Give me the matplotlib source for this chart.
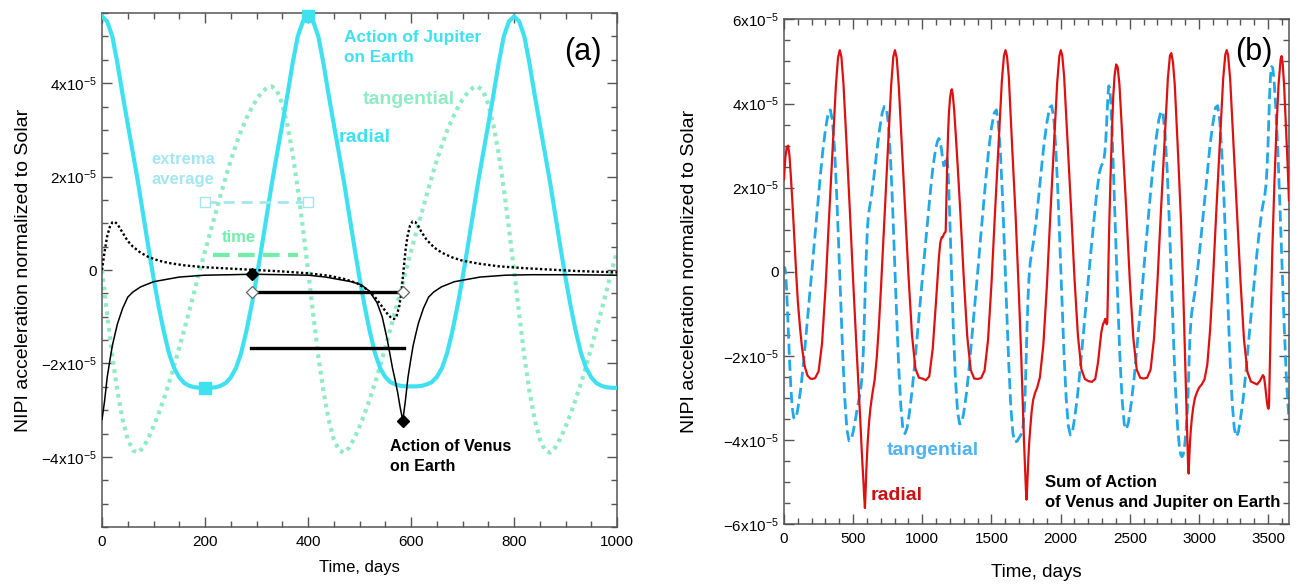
import matplotlib
matplotlib.use('Agg')
import matplotlib.pyplot as plt
from matplotlib.ticker import MultipleLocator, FuncFormatter

plt.rcParams['font.family'] = ['Liberation Sans', 'DejaVu Sans']
plt.rcParams['mathtext.fontset'] = 'custom'
plt.rcParams['mathtext.rm'] = 'Liberation Sans'
plt.rcParams['mathtext.it'] = 'Liberation Sans:italic'
plt.rcParams['mathtext.bf'] = 'Liberation Sans:bold'

# ---- panel (a): single planets, values in units of 1e-5 ----
days_a = list(range(0, 1001, 10))
jup_radial = [5.43, 5.32, 5.00, 4.42, 3.75, 3.12, 2.50, 1.87, 1.18, 0.49, -0.17, -0.78, -1.32, -1.78, -2.10, -2.30, -2.42, -2.48, -2.51, -2.52, -2.52,
              -2.52, -2.51, -2.48, -2.42, -2.30, -2.10, -1.78, -1.32, -0.78, -0.17, 0.49, 1.18, 1.87, 2.50, 3.12, 3.75, 4.42, 5.00, 5.32, 5.43,
              5.32, 5.00, 4.42, 3.75, 3.12, 2.50, 1.87, 1.18, 0.49, -0.17, -0.78, -1.32, -1.78, -2.10, -2.29, -2.40, -2.45, -2.48, -2.49, -2.49,
              -2.49, -2.48, -2.45, -2.40, -2.29, -2.10, -1.78, -1.32, -0.78, -0.17, 0.49, 1.18, 1.87, 2.50, 3.12, 3.75, 4.42, 5.00, 5.32, 5.43,
              5.32, 5.00, 4.42, 3.75, 3.12, 2.50, 1.87, 1.18, 0.49, -0.17, -0.78, -1.32, -1.78, -2.10, -2.30, -2.42, -2.48, -2.51, -2.52, -2.52]
jup_tangential = [0.0, -0.95, -1.85, -2.6, -3.2, -3.62, -3.86, -3.91, -3.8, -3.6, -3.35, -3.07, -2.76, -2.42, -2.05, -1.66, -1.26, -0.85, -0.43, 0.0, 0.4,
                  0.8, 1.2, 1.6, 1.98, 2.35, 2.68, 2.98, 3.24, 3.46, 3.65, 3.8, 3.9, 3.93, 3.83, 3.55, 3.1, 2.5, 1.75, 0.9, 0.0,
                  -0.95, -1.85, -2.6, -3.2, -3.62, -3.86, -3.91, -3.8, -3.6, -3.35, -3.07, -2.76, -2.42, -2.05, -1.66, -1.26, -0.85, -0.43, 0.0, 0.4,
                  0.8, 1.2, 1.6, 1.98, 2.35, 2.68, 2.98, 3.24, 3.46, 3.65, 3.8, 3.9, 3.93, 3.83, 3.55, 3.1, 2.5, 1.75, 0.9, 0.0,
                  -0.95, -1.85, -2.6, -3.2, -3.62, -3.86, -3.91, -3.8, -3.6, -3.35, -3.07, -2.76, -2.42, -2.05, -1.66, -1.26, -0.85, -0.43, 0.0, 0.4]

ven_radial_days = [0, 5, 10, 15, 20, 25, 30, 40, 50, 60, 75, 100, 150, 200, 250, 292, 350, 400, 434, 484, 504, 519, 534, 544,
                   554, 559, 564, 569, 574, 579, 584, 589, 594, 599, 604, 609, 614, 624, 634, 644, 659, 684, 734, 784, 834, 900, 1000]
ven_radial = [-3.2, -2.8, -2.3, -1.95, -1.62, -1.38, -1.15, -0.82, -0.58, -0.47, -0.36, -0.25, -0.15, -0.11, -0.1, -0.09, -0.1, -0.11,
              -0.15, -0.25, -0.32, -0.45, -0.7, -1.0, -1.5, -1.8, -2.1, -2.35, -2.62, -2.95, -3.22, -2.8, -2.3, -1.95, -1.62, -1.38,
              -1.15, -0.82, -0.58, -0.47, -0.36, -0.25, -0.15, -0.11, -0.1, -0.1, -0.11]

ven_tang_days = [0, 5, 10, 15, 20, 25, 30, 40, 50, 60, 75, 90, 110, 130, 160, 200, 250, 300, 350, 400, 440, 470, 495, 515, 530,
                 545, 555, 562, 567, 572, 577, 581, 585, 589, 593, 598, 603, 608, 613, 620, 630, 645, 660, 680, 700, 730, 770,
                 820, 870, 920, 1000]
ven_tangential = [0.0, 0.4, 0.72, 0.92, 1.02, 1.03, 0.98, 0.8, 0.62, 0.5, 0.37, 0.28, 0.2, 0.15, 0.1, 0.06, 0.03, 0.0, -0.03,
                  -0.07, -0.12, -0.19, -0.28, -0.42, -0.58, -0.8, -0.95, -1.03, -1.05, -0.98, -0.78, -0.5, -0.05, 0.4, 0.72,
                  0.95, 1.04, 1.03, 0.96, 0.82, 0.65, 0.48, 0.37, 0.27, 0.2, 0.14, 0.08, 0.04, 0.01, -0.02, -0.05]

# extrema of the Jupiter radial curve and its averages
jup_max = (400, 5.43)
jup_min = (200, -2.52)
jup_extrema_avg = 1.45
jup_time_avg = 0.33
jup_time_span = (216, 381)
# extrema of the Venus radial curve and its averages
ven_max = (292, -0.086)
ven_min = (584, -3.23)
ven_time_avg = -0.46
ven_extrema_avg = -1.66
ven_extrema_span = (289, 586)

# ---- panel (b): sum of Venus and Jupiter ----
sum_radial_days = [0, 10, 20, 30, 40, 50, 60, 70, 80, 90, 100, 115, 130, 150, 170, 190, 205,
                   225, 250, 275, 300, 325, 350, 375, 390, 403, 415, 430, 450, 475, 500, 525, 540, 550, 560, 565, 570, 575, 580,
                   585, 590, 595, 600, 605, 615, 625, 640, 655, 670, 685, 700, 715, 730, 750, 775, 790, 802, 815, 830, 850, 875,
                   900, 925, 950, 975, 1000,
                   1025, 1050, 1075, 1090, 1100, 1110, 1120, 1130, 1140, 1146, 1150, 1155, 1160, 1165, 1169, 1173, 1177, 1181,
                   1186, 1192, 1200, 1208, 1213, 1220, 1230, 1240, 1255, 1275, 1300, 1325, 1350, 1375, 1400,
                   1425, 1450, 1475, 1500, 1525, 1550, 1575, 1590, 1601, 1612, 1625, 1650, 1675, 1700, 1715, 1725, 1735, 1740,
                   1745, 1749, 1753, 1757, 1761, 1766, 1772, 1780, 1790, 1801, 1815, 1830, 1850, 1875, 1900, 1925, 1950, 1975,
                   1990, 2001, 2012, 2025, 2050, 2075, 2100, 2125, 2150, 2175, 2200,
                   2225, 2250, 2270, 2285, 2295, 2305, 2315, 2322, 2328, 2333, 2337, 2341, 2346, 2352, 2360, 2370, 2380, 2390,
                   2401, 2412, 2425, 2450, 2475, 2500, 2525, 2550, 2575, 2600,
                   2625, 2650, 2675, 2700, 2725, 2750, 2775, 2790, 2800, 2812, 2825, 2850, 2870, 2885, 2895, 2903, 2909, 2913,
                   2917, 2921, 2925, 2929, 2934, 2940, 2948, 2958, 2970, 2985, 3000, 3020, 3040, 3060, 3080, 3100, 3125, 3150,
                   3175, 3190, 3200, 3210, 3225, 3250, 3275, 3300, 3325, 3350, 3375, 3400,
                   3420, 3440, 3455, 3462, 3470, 3478, 3486, 3492, 3497, 3502, 3506, 3510, 3515, 3520, 3530, 3545, 3560, 3575,
                   3590, 3597, 3605, 3615, 3625, 3640, 3650]
sum_radial = [2.2, 2.72, 2.96, 3.0, 2.75, 2.25, 1.7, 1.1, 0.45, -0.15, -0.7, -1.3, -1.8, -2.25, -2.47, -2.54, -2.55,
              -2.53, -2.37, -1.71, -0.4, 1.24, 2.82, 4.41, 5.08, 5.27, 5.11, 4.47, 3.19, 1.53, -0.22, -1.86, -2.79, -3.43,
              -4.12, -4.45, -4.73, -5.03, -5.37, -5.62, -5.23, -4.73, -4.38, -4.05, -3.58, -3.24, -2.88, -2.58, -2.07, -1.34,
              -0.46, 0.54, 1.58, 2.84, 4.44, 5.11, 5.27, 5.08, 4.41, 3.13, 1.58, -0.09, -1.49, -2.3, -2.52, -2.54,
              -2.58, -2.49, -1.84, -1.15, -0.66, -0.14, 0.34, 0.7, 0.82, 0.82, 0.84, 0.89, 0.92, 0.93, 0.97, 1.57, 2.2, 2.74,
              3.28, 3.75, 4.12, 4.3, 4.34, 4.22, 3.85, 3.35, 2.55, 1.4, -0.17, -1.55, -2.34, -2.54, -2.55,
              -2.53, -2.35, -1.62, -0.28, 1.38, 2.95, 4.54, 5.13, 5.27, 5.13, 4.65, 2.93, 1.29, -0.69, -2.01, -3.05, -4.03,
              -4.46, -4.87, -5.2, -5.42, -5.19, -4.85, -4.48, -4.09, -3.73, -3.33, -3.05, -2.88, -2.76, -2.51, -1.73, -0.36,
              1.32, 2.91, 4.5, 5.12, 5.27, 5.13, 4.65, 3.07, 1.52, -0.16, -1.53, -2.32, -2.55, -2.6,
              -2.62, -2.55, -2.16, -1.7, -1.42, -1.26, -1.19, -1.12, -1.18, -1.25, -1.2, -0.6, 0.3, 1.22, 2.19, 3.27, 4.16,
              4.67, 4.93, 4.87, 4.45, 2.95, 1.43, -0.22, -1.57, -2.33, -2.52, -2.54,
              -2.52, -2.33, -1.58, -0.22, 1.45, 3.01, 4.6, 5.14, 5.2, 4.98, 4.44, 2.71, 1.2, -0.34, -1.53, -2.5, -3.16, -3.63,
              -4.09, -4.6, -4.8, -4.5, -4.1, -3.8, -3.5, -3.23, -3.01, -2.87, -2.76, -2.68, -2.56, -2.21, -1.4, -0.26, 1.43,
              3.01, 4.6, 5.16, 5.27, 5.16, 4.6, 3.01, 1.45, -0.22, -1.6, -2.38, -2.61, -2.65,
              -2.68, -2.6, -2.5, -2.46, -2.5, -2.7, -2.95, -3.12, -3.22, -3.26, -3.2, -2.6, -1.8, -0.9, 0.5, 2.1, 3.4, 4.45,
              5.05, 5.13, 4.95, 4.45, 3.7, 2.6, 1.7]

sum_tang_days = [0, 5, 10, 15, 20, 30, 40, 50, 60, 70, 80, 90, 100, 120, 140, 160, 180, 200, 220, 240, 260, 280, 300, 320,
                 335, 350, 365, 380, 395, 410, 425, 440, 455, 470, 485, 500, 515, 530, 545, 555, 562, 568, 574, 579, 585,
                 591, 597, 604, 612, 622, 635, 650, 670, 690, 710, 725, 740, 755, 770, 785, 800, 815, 830, 845, 860, 875,
                 890, 905, 925, 945, 965, 985, 1000, 1015, 1035, 1055, 1075, 1090, 1100, 1110, 1120, 1130, 1140, 1148, 1155,
                 1161, 1166, 1169, 1173, 1178, 1184, 1192, 1202, 1212, 1225, 1240, 1255, 1270, 1285, 1300, 1320, 1340, 1360,
                 1380, 1400, 1420, 1440, 1460, 1480, 1500, 1520, 1535, 1550, 1565, 1580, 1595, 1610, 1625, 1640, 1655, 1670,
                 1685, 1700, 1712, 1722, 1730, 1737, 1743, 1748, 1753, 1758, 1764, 1771, 1780, 1792, 1805, 1820, 1840, 1860,
                 1880, 1900, 1920, 1935, 1950, 1965, 1980, 1995, 2010, 2025, 2040, 2055, 2070, 2085, 2100, 2120, 2140, 2160,
                 2180, 2200, 2220, 2240, 2260, 2280, 2295, 2305, 2313, 2320, 2326, 2331, 2337, 2342, 2348, 2355, 2363, 2372,
                 2385, 2400, 2415, 2430, 2445, 2460, 2475, 2490, 2510, 2530, 2550, 2570, 2590, 2610, 2630, 2650, 2670, 2690,
                 2710, 2725, 2740, 2755, 2770, 2785, 2800, 2815, 2830, 2845, 2858, 2868, 2877, 2886, 2894, 2901, 2907, 2913,
                 2917, 2921, 2925, 2930, 2936, 2944, 2955, 2970, 2985, 3000, 3020, 3040, 3060, 3080, 3100, 3120, 3135, 3150,
                 3165, 3180, 3195, 3210, 3225, 3240, 3255, 3270, 3285, 3300, 3320, 3340, 3360, 3380, 3400, 3420, 3440, 3455,
                 3467, 3477, 3485, 3492, 3498, 3504, 3510, 3517, 3525, 3533, 3542, 3555, 3570, 3585, 3600, 3615, 3630, 3640,
                 3650]
sum_tangential = [0.0, 0.1, 0.03, -0.19, -0.5, -1.3, -2.1, -2.78, -3.24, -3.47, -3.5, -3.43, -3.26, -2.81, -2.21, -1.49, -0.76,
                  -0.03, 0.71, 1.45, 2.19, 2.86, 3.39, 3.78, 3.85, 3.6, 2.95, 1.91, 0.65, -0.71, -2.0, -3.04, -3.76, -4.02,
                  -4.0, -3.81, -3.54, -3.25, -2.98, -2.77, -2.57, -2.28, -1.85, -1.38, -0.68, 0.03, 0.57, 1.08, 1.39, 1.6,
                  1.86, 2.26, 2.84, 3.36, 3.78, 3.93, 3.9, 3.51, 2.7, 1.57, 0.24, -1.11, -2.31, -3.21, -3.76, -3.85, -3.71,
                  -3.39, -2.86, -2.19, -1.45, -0.72, -0.17, 0.38, 1.1, 1.8, 2.44, 2.79, 2.97, 3.11, 3.17, 3.08, 2.87, 2.65,
                  2.52, 2.53, 2.63, 2.68, 2.75, 2.71, 2.5, 1.93, 0.93, -0.15, -1.43, -2.58, -3.34, -3.62, -3.6, -3.34, -2.87,
                  -2.23, -1.5, -0.76, -0.02, 0.76, 1.5, 2.24, 2.91, 3.43, 3.78, 3.85, 3.52, 2.8, 1.75, 0.45, -0.92, -2.2,
                  -3.23, -3.85, -4.05, -4.03, -3.95, -3.88, -3.8, -3.62, -3.32, -2.9, -2.39, -1.8, -1.21, -0.63, -0.15, 0.22,
                  0.48, 0.75, 1.14, 1.75, 2.42, 3.05, 3.54, 3.9, 3.95, 3.66, 2.94, 1.89, 0.59, -0.77, -2.02, -3.02, -3.66,
                  -3.88, -3.81, -3.5, -3.0, -2.35, -1.62, -0.89, -0.18, 0.53, 1.21, 1.85, 2.36, 2.53, 2.58, 2.68, 2.86, 3.12,
                  3.43, 3.87, 4.21, 4.42, 4.36, 4.0, 3.32, 2.07, 0.56, -0.88, -2.16, -3.07, -3.63, -3.75, -3.58, -3.13, -2.56,
                  -1.86, -1.12, -0.38, 0.41, 1.15, 1.89, 2.57, 3.16, 3.62, 3.82, 3.76, 3.25, 2.41, 1.23, -0.17, -1.54, -2.78,
                  -3.69, -4.15, -4.35, -4.4, -4.35, -4.2, -3.98, -3.75, -3.45, -3.2, -2.89, -2.44, -1.94, -1.47, -1.07, -0.79,
                  -0.49, -0.09, 0.35, 1.0, 1.68, 2.38, 3.02, 3.52, 3.91, 3.95, 3.6, 2.84, 1.78, 0.47, -0.89, -2.13, -3.12,
                  -3.72, -3.92, -3.81, -3.5, -3.0, -2.35, -1.61, -0.91, -0.22, 0.48, 1.07, 1.46, 1.68, 1.85, 2.09, 2.47, 2.94,
                  3.55, 4.17, 4.66, 4.88, 4.85, 4.58, 3.89, 2.87, 1.57, 0.17, -1.21, -2.4, -3.01, -3.46]

CYAN = '#3fe0f0'
MINT = '#8eecc4'
LIGHT_CYAN = '#a3e6f2'
TIME_GREEN = '#70eeaa'
RED = '#dd1111'
BLUE = '#22a8e8'
SPINE = '#555555'


def sci_label(v, pos):
    if abs(v) < 1e-9:
        return '0'
    return r'$\mathregular{%dx10^{-5}}$' % round(v)


def style_axes(ax, xmajor, xminor):
    ax.xaxis.set_major_locator(MultipleLocator(xmajor))
    ax.xaxis.set_minor_locator(MultipleLocator(xminor))
    ax.yaxis.set_major_locator(MultipleLocator(2))
    ax.yaxis.set_minor_locator(MultipleLocator(0.5))
    ax.yaxis.set_major_formatter(FuncFormatter(sci_label))
    ax.tick_params(which='both', direction='in', top=True, right=True, color=SPINE, width=1.0, labelsize=11)
    ax.tick_params(which='major', length=7)
    ax.tick_params(which='minor', length=4)
    ax.tick_params(axis='x', which='major', pad=6)
    ax.tick_params(axis='y', which='major', pad=3.5)
    for sp in ax.spines.values():
        sp.set_color(SPINE)
        sp.set_linewidth(1.1)


fig = plt.figure(figsize=(12.98, 5.84), dpi=100)
ax1 = fig.add_axes([0.0786, 0.0976, 0.3968, 0.880])
ax2 = fig.add_axes([0.604, 0.1027, 0.389, 0.864])

# panel (a)
ax1.plot(days_a, jup_tangential, color=MINT, lw=3.0, linestyle=(0, (0.9, 1.1)), zorder=2)
ax1.plot(days_a, jup_radial, color=CYAN, lw=3.0, zorder=3)
ax1.plot(ven_radial_days, ven_radial, color='black', lw=1.1, zorder=4)
ax1.plot(ven_tang_days, ven_tangential, color='black', lw=1.7, linestyle=(0, (1, 1)), zorder=4)

ax1.plot([jup_min[0], jup_max[0]], [jup_extrema_avg, jup_extrema_avg], color=LIGHT_CYAN, lw=2.0,
         linestyle=(0, (4, 2.5)), zorder=5)
ax1.plot([jup_min[0], jup_max[0]], [jup_extrema_avg, jup_extrema_avg], linestyle='none', marker='s', ms=6.5,
         mfc='white', mec=LIGHT_CYAN, mew=1.0, zorder=6)
ax1.plot(list(jup_time_span), [jup_time_avg, jup_time_avg], color=TIME_GREEN, lw=3.0,
         linestyle=(0, (4, 2)), zorder=5)
ax1.plot([jup_max[0], jup_min[0]], [jup_max[1], jup_min[1]], linestyle='none', marker='s', ms=8.5,
         color=CYAN, clip_on=False, zorder=6)

ax1.plot([ven_max[0], ven_min[0]], [ven_time_avg, ven_time_avg], color='black', lw=2.4, zorder=5)
ax1.plot(list(ven_extrema_span), [ven_extrema_avg, ven_extrema_avg], color='black', lw=2.4, zorder=5)
ax1.plot([ven_max[0], ven_min[0]], [ven_time_avg, ven_time_avg], linestyle='none', marker='D', ms=6.5,
         mfc='white', mec='#666666', mew=0.9, zorder=6)
ax1.plot([ven_max[0], ven_min[0]], [ven_max[1], ven_min[1]], linestyle='none', marker='D', ms=6.5,
         color='black', zorder=6)

ax1.set_xlim(0, 1000)
ax1.set_ylim(-5.5, 5.5)
style_axes(ax1, 200, 50)
ax1.set_xlabel('Time, days', fontsize=12, labelpad=8)
ax1.set_ylabel('NIPI acceleration normalized to Solar', fontsize=14, labelpad=7)

ax1.text(470, 4.98, 'Action of Jupiter', color=CYAN, fontsize=12.4, fontweight='bold', va='center')
ax1.text(470, 4.55, 'on Earth', color=CYAN, fontsize=12.4, fontweight='bold', va='center')
ax1.text(460, 2.84, 'radial', color=CYAN, fontsize=14, fontweight='bold', va='center')
ax1.text(507, 3.65, 'tangential', color=MINT, fontsize=14, fontweight='bold', va='center')
ax1.text(96, 2.36, 'extrema', color=LIGHT_CYAN, fontsize=12, fontweight='bold', va='center')
ax1.text(96, 1.94, 'average', color=LIGHT_CYAN, fontsize=12, fontweight='bold', va='center')
ax1.text(233, 0.69, 'time', color=TIME_GREEN, fontsize=12, fontweight='bold', va='center')
ax1.text(559, -3.77, 'Action of Venus', color='black', fontsize=11.5, fontweight='bold', va='center')
ax1.text(559, -4.20, 'on Earth', color='black', fontsize=11.5, fontweight='bold', va='center')
ax1.text(934, 4.66, '(a)', fontsize=22, ha='center', va='center')

# panel (b)
ax2.plot(sum_tang_days, sum_tangential, color=BLUE, lw=2.0, linestyle=(0, (4, 1.8)), zorder=2)
ax2.plot(sum_radial_days, sum_radial, color=RED, lw=1.6, zorder=3)
ax2.set_xlim(0, 3650)
ax2.set_ylim(-6, 6)
style_axes(ax2, 500, 100)
ax2.set_xlabel('Time, days', fontsize=13.5, labelpad=13)
ax2.set_ylabel('NIPI acceleration normalized to Solar', fontsize=14, labelpad=18)

ax2.text(745, -4.24, 'tangential', color='#4fb2ef', fontsize=14, fontweight='bold', va='center')
ax2.text(629, -5.31, 'radial', color='#cc1111', fontsize=14, fontweight='bold', va='center')
ax2.text(1887, -5.02, 'Sum of Action', color='black', fontsize=12, fontweight='bold', va='center')
ax2.text(1887, -5.50, 'of Venus and Jupiter on Earth', color='black', fontsize=12, fontweight='bold', va='center')
ax2.text(3398, 5.22, '(b)', fontsize=22, ha='center', va='center')

fig.savefig('out.png', dpi=100)
